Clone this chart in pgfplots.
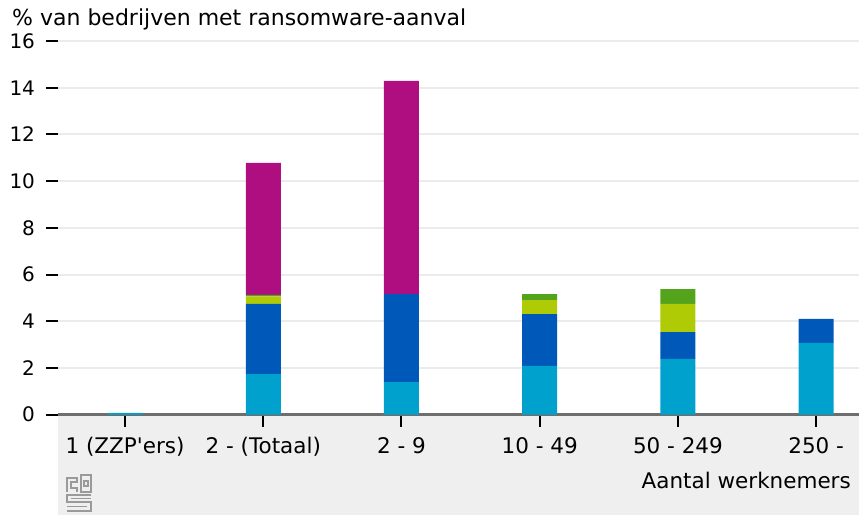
\documentclass[border=0pt]{standalone}
\usepackage{fontspec}
\setmainfont{DejaVu Sans}
\usepackage{pgfplots}
\pgfplotsset{compat=1.18}
\definecolor{cLB}{HTML}{00A1CD}
\definecolor{cDB}{HTML}{0058B8}
\definecolor{cYG}{HTML}{AFCB05}
\definecolor{cGR}{HTML}{53A31D}
\definecolor{cMG}{HTML}{AF0E80}
\definecolor{cBand}{HTML}{EFEFEF}
\definecolor{cGrid}{HTML}{EBEBEB}
\definecolor{cAxis}{HTML}{6E6E6E}
\definecolor{cLogo}{HTML}{9A9A9A}
\newcommand{\fs}{\fontsize{21.5}{24}\selectfont}
\newcommand{\ft}{\fontsize{22}{25}\selectfont}
\newcommand{\fy}{\fontsize{20}{23}\selectfont}
\begin{document}
\begin{tikzpicture}[x=1pt,y=1pt]
\useasboundingbox (0,0) rectangle (859,515);
\fill[cBand] (58,0) rectangle (859,100.3);
\begin{axis}[
  at={(58pt,100.3pt)}, anchor=south west,
  scale only axis, width=801pt, height=373.7pt,
  xmin=-0.485, xmax=5.31, ymin=0, ymax=16,
  ybar stacked, bar width=35pt,
  axis x line*=bottom, axis y line*=left,
  y axis line style={draw=none},
  x axis line style={draw=cAxis, line width=3pt, -},
  axis line style={-},
  ytick={0,2,...,16},
  xtick={0,1,2,3,4,5},
  xticklabels={1 (ZZP\textquotesingle ers),2 - (Totaal),2 - 9,10 - 49,50 - 249,250 -},
  tick align=outside,
  major tick length=12pt,
  every tick/.style={black, line width=2pt},
  ymajorgrids, grid style={cGrid, line width=2pt},
  /pgf/number format/assume math mode=true,
  yticklabel style={font=\fy, anchor=east, xshift=-7.5pt},
  xticklabel style={font=\fs, anchor=base, yshift=-26.3pt},
  clip=false,
]
\addplot[fill=cLB, draw=none] coordinates {(0,0.08) (1,1.74) (2,1.40) (3,2.09) (4,2.39) (5,3.07)};
\addplot[fill=cDB, draw=none] coordinates {(0,0) (1,3.00) (2,3.76) (3,2.22) (4,1.15) (5,1.03)};
\addplot[fill=cYG, draw=none] coordinates {(0,0) (1,0.33) (2,0) (3,0.60) (4,1.20) (5,0)};
\addplot[fill=cGR, draw=none] coordinates {(0,0) (1,0.06) (2,0) (3,0.25) (4,0.64) (5,0)};
\addplot[fill=cMG, draw=none] coordinates {(0,0) (1,5.65) (2,9.13) (3,0) (4,0) (5,0)};
\end{axis}
\node[anchor=base west, font=\ft, inner sep=0pt] at (12,489) {\% van bedrijven met ransomware-aanval};
\node[anchor=base east, font=\fs, inner sep=0pt] at (851,27) {Aantal werknemers};
% cbs logo
\begin{scope}[cLogo, line width=1.3pt]
\draw (67,23) -- (67,37) -- (77,37) -- (77,33) -- (71,33) -- (71,27) -- (77,27) -- (77,23);
\draw (81,23) -- (81,40) -- (91,40) -- (91,23) -- cycle;
\draw (84,29) rectangle (88,34);
\draw (91,20) -- (67,20) -- (67,13) -- (91,13) -- (91,4) -- (67,4);
\draw (71,16.5) -- (91,16.5);
\draw (67,8.5) -- (87,8.5);
\end{scope}
\end{tikzpicture}
\end{document}
